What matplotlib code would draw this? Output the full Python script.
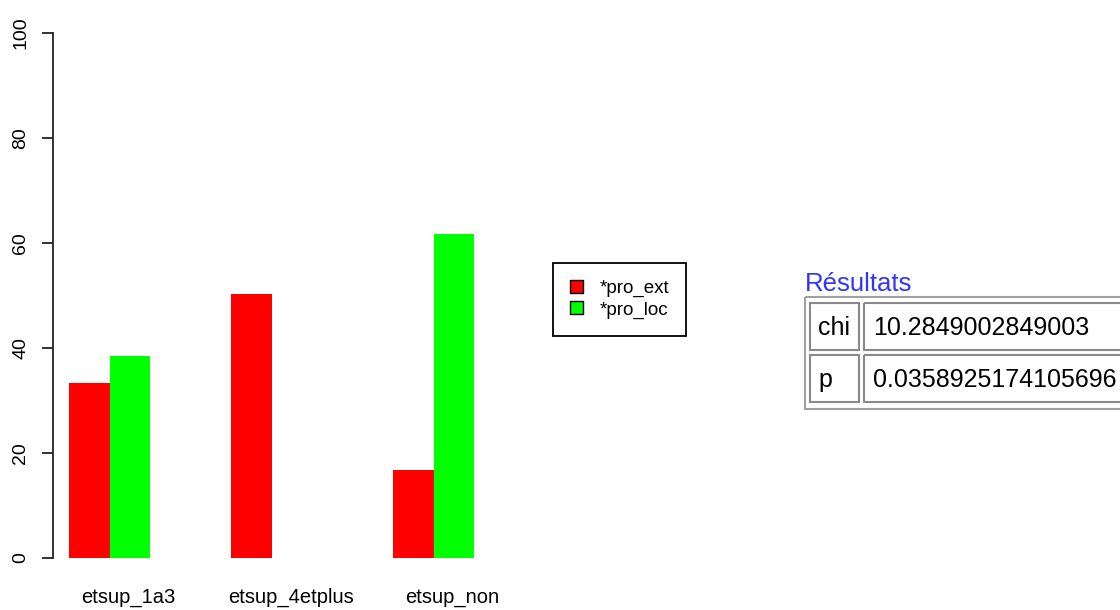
import matplotlib
matplotlib.use("Agg")
import matplotlib.pyplot as plt
from matplotlib.patches import Rectangle, Patch
import numpy as np

# --- DATA ---
categories = ["etsup_1a3", "etsup_4etplus", "etsup_non"]
pro_ext = [33.3, 50.3, 16.7]
pro_loc = [38.5, 0.0, 61.7]
series_names = ["*pro_ext", "*pro_loc"]
stat_names = ["chi", "p"]
stat_values = ["10.2849002849003", "0.0358925174105696"]
yticks = [0, 20, 40, 60, 80, 100]

plt.rcParams["font.family"] = ["Liberation Sans", "DejaVu Sans"]

W, H = 1120, 610
fig = plt.figure(figsize=(W / 100, H / 100), dpi=100)

# bar chart axes (pixel geometry: axis at x=53, y 0 at 558, 100 at 33)
ax = fig.add_axes([53 / W, (H - 558) / H, 477 / W, 525 / H])
x = np.arange(len(categories)) * 4
ax.bar(x, pro_ext, width=1, align="edge", color="#ff0000", linewidth=0)
ax.bar(x + 1, pro_loc, width=1, align="edge", color="#00ff00", linewidth=0)

ax.set_xlim(-0.395, 11.38)
ax.set_ylim(0, 100)
for s in ["top", "right", "bottom"]:
    ax.spines[s].set_visible(False)
ax.spines["left"].set_bounds(0, 100)
ax.spines["left"].set_linewidth(1.3)
ax.spines["left"].set_color("#222222")
ax.set_xticks([])
ax.set_yticks(yticks)
ax.set_yticklabels([str(v) for v in yticks], rotation=90, va="center", fontsize=14)
ax.tick_params(axis="y", length=8, width=1.3, color="#222222", pad=9)

for xi, name in zip(x, categories):
    ax.text(xi + 1.47, -0.075, name, transform=ax.get_xaxis_transform(),
            ha="center", va="center", fontsize=14.5)

# legend
handles = [Patch(facecolor="#ff0000", edgecolor="black", linewidth=1),
           Patch(facecolor="#00ff00", edgecolor="black", linewidth=1)]
leg = fig.legend(handles, series_names, loc="upper left",
                 bbox_to_anchor=(553 / W, 1 - 263 / H), fontsize=13.5,
                 fancybox=False, edgecolor="black", framealpha=1,
                 handlelength=0.7, handleheight=0.7, handletextpad=0.9,
                 borderpad=0.9, labelspacing=0.22, borderaxespad=0)
leg.get_frame().set_linewidth(1.3)

# results table in pixel coordinates
tab = fig.add_axes([0, 0, 1, 1])
tab.set_xlim(0, W)
tab.set_ylim(H, 0)
tab.axis("off")
tab.text(805, 291, "Résultats", color="#3333ff", fontsize=18.5, va="baseline")
tab.add_patch(Rectangle((805, 297), 330, 112, fill=False, edgecolor="#a0a0a0", linewidth=1.5))
row_tops = [303, 355]
for top, nm, val in zip(row_tops, stat_names, stat_values):
    tab.add_patch(Rectangle((810, top), 49, 47, fill=False, edgecolor="#8a8a8a", linewidth=1.5))
    tab.add_patch(Rectangle((864, top), 270, 47, fill=False, edgecolor="#8a8a8a", linewidth=1.5))
    tab.text(818, top + 32, nm, fontsize=18, va="baseline")
    tab.text(873, top + 32, val, fontsize=18, va="baseline")

fig.savefig("out.png", dpi=100)
